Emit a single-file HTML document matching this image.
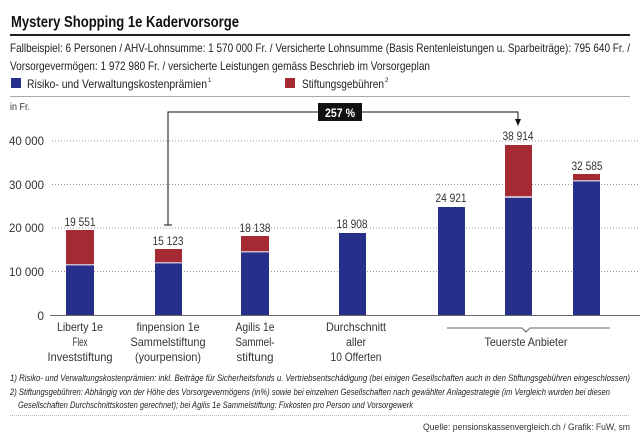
<!DOCTYPE html>
<html><head><meta charset="utf-8"><style>
body{margin:0;background:#fff}
svg{display:block;font-family:"Liberation Sans Narrow","Liberation Sans",sans-serif}
</style></head><body>
<svg width="640" height="440" viewBox="0 0 640 440">
<text x="11" y="27" font-size="16" font-weight="bold" fill="#111" textLength="228" lengthAdjust="spacingAndGlyphs">Mystery Shopping 1e Kadervorsorge</text>
<rect x="10" y="34" width="620" height="2" fill="#222"/>
<text x="10" y="52" font-size="12" fill="#222" textLength="620" lengthAdjust="spacingAndGlyphs">Fallbeispiel: 6 Personen / AHV-Lohnsumme: 1 570 000 Fr. / Versicherte Lohnsumme (Basis Rentenleistungen u. Sparbeiträge): 795 640 Fr. /</text>
<text x="10" y="70" font-size="12" fill="#222" textLength="420" lengthAdjust="spacingAndGlyphs">Vorsorgevermögen: 1 972 980 Fr. / versicherte Leistungen gemäss Beschrieb im Vorsorgeplan</text>
<rect x="11" y="78" width="10" height="10" fill="#26308a"/>
<text x="27" y="88" font-size="12" fill="#222" textLength="180" lengthAdjust="spacingAndGlyphs">Risiko- und Verwaltungskostenprämien</text><text x="208" y="82" font-size="6" fill="#222">1</text>
<rect x="285" y="78" width="10" height="10" fill="#a52a33"/>
<text x="302" y="88" font-size="12" fill="#222" textLength="82" lengthAdjust="spacingAndGlyphs">Stiftungsgebühren</text><text x="385" y="82" font-size="6" fill="#222">2</text>
<rect x="10" y="96" width="620" height="1" fill="#aaa"/>
<text x="10" y="110" font-size="10" fill="#333" textLength="20" lengthAdjust="spacingAndGlyphs">in Fr.</text>
<g stroke="#999" stroke-dasharray="1,2" stroke-width="1">
<line x1="52" y1="141" x2="640" y2="141"/><line x1="52" y1="184.5" x2="640" y2="184.5"/><line x1="52" y1="228" x2="640" y2="228"/><line x1="52" y1="271.5" x2="640" y2="271.5"/>
</g>
<line x1="50" y1="315.5" x2="640" y2="315.5" stroke="#666"/>
<g font-size="12" fill="#333" text-anchor="end">
<text x="44" y="145" textLength="35" lengthAdjust="spacingAndGlyphs">40 000</text><text x="44" y="189" textLength="35" lengthAdjust="spacingAndGlyphs">30 000</text><text x="44" y="232" textLength="35" lengthAdjust="spacingAndGlyphs">20 000</text><text x="44" y="276" textLength="35" lengthAdjust="spacingAndGlyphs">10 000</text><text x="44" y="320">0</text>
</g>
<g>
<rect x="66" y="265" width="28" height="50" fill="#26308a"/><rect x="66" y="264" width="28" height="1.5" fill="#c9b7c9"/><rect x="66" y="230" width="28" height="34" fill="#a52a33"/>
<rect x="155" y="263" width="27" height="52" fill="#26308a"/><rect x="155" y="262" width="27" height="1.5" fill="#c9b7c9"/><rect x="155" y="249" width="27" height="13" fill="#a52a33"/>
<rect x="241" y="252" width="28" height="63" fill="#26308a"/><rect x="241" y="251" width="28" height="1.5" fill="#c9b7c9"/><rect x="241" y="236" width="28" height="15" fill="#a52a33"/>
<rect x="339" y="233" width="27" height="82" fill="#26308a"/>
<rect x="438" y="207" width="27" height="108" fill="#26308a"/>
<rect x="505" y="198" width="27" height="117" fill="#26308a"/><rect x="505" y="196" width="27" height="2" fill="#c9b7c9"/><rect x="505" y="145" width="27" height="51" fill="#a52a33"/>
<rect x="573" y="181" width="27" height="134" fill="#26308a"/><rect x="573" y="180" width="27" height="1.5" fill="#c9b7c9"/><rect x="573" y="174" width="27" height="6" fill="#a52a33"/>
</g>
<g font-size="12" fill="#333" text-anchor="middle">
<text x="80" y="226" textLength="31" lengthAdjust="spacingAndGlyphs">19 551</text><text x="168" y="245" textLength="31" lengthAdjust="spacingAndGlyphs">15 123</text><text x="255" y="232" textLength="31" lengthAdjust="spacingAndGlyphs">18 138</text><text x="352" y="228" textLength="31" lengthAdjust="spacingAndGlyphs">18 908</text><text x="451" y="202" textLength="31" lengthAdjust="spacingAndGlyphs">24 921</text><text x="518" y="140" textLength="31" lengthAdjust="spacingAndGlyphs">38 914</text><text x="587" y="170" textLength="31" lengthAdjust="spacingAndGlyphs">32 585</text>
</g>
<g stroke="#111" stroke-width="1" fill="none">
<polyline points="168,225 168,112 518,112 518,120"/>
<line x1="164" y1="225" x2="172" y2="225"/>
</g>
<polygon points="515,119 521,119 518,126" fill="#111"/>
<rect x="318" y="103" width="44" height="18" fill="#111"/>
<text x="340" y="117" font-size="12" font-weight="bold" fill="#fff" text-anchor="middle" textLength="30" lengthAdjust="spacingAndGlyphs">257 %</text>
<g font-size="12" fill="#333" text-anchor="middle" lengthAdjust="spacingAndGlyphs">
<text x="80" y="331" textLength="46" lengthAdjust="spacingAndGlyphs">Liberty 1e</text><text x="80" y="346" textLength="15" lengthAdjust="spacingAndGlyphs">Flex</text><text x="80" y="361" textLength="65" lengthAdjust="spacingAndGlyphs">Investstiftung</text>
<text x="168" y="331" textLength="63" lengthAdjust="spacingAndGlyphs">finpension 1e</text><text x="168" y="346" textLength="75" lengthAdjust="spacingAndGlyphs">Sammelstiftung</text><text x="168" y="361" textLength="66" lengthAdjust="spacingAndGlyphs">(yourpension)</text>
<text x="255" y="331" textLength="39" lengthAdjust="spacingAndGlyphs">Agilis 1e</text><text x="255" y="346" textLength="39" lengthAdjust="spacingAndGlyphs">Sammel-</text><text x="255" y="361" textLength="37" lengthAdjust="spacingAndGlyphs">stiftung</text>
<text x="356" y="331" textLength="60" lengthAdjust="spacingAndGlyphs">Durchschnitt</text><text x="356" y="346" textLength="20" lengthAdjust="spacingAndGlyphs">aller</text><text x="356" y="361" textLength="51" lengthAdjust="spacingAndGlyphs">10 Offerten</text>
<text x="526" y="346" textLength="83" lengthAdjust="spacingAndGlyphs">Teuerste Anbieter</text>
</g>
<polyline points="447,328 522,328 526,332 530,328 610,328" stroke="#666" fill="none"/>
<g font-size="9.5" font-style="italic" fill="#222">
<text x="10" y="381" textLength="620" lengthAdjust="spacingAndGlyphs">1) Risiko- und Verwaltungskostenprämien: inkl. Beiträge für Sicherheitsfonds u. Vertriebsentschädigung (bei einigen Gesellschaften auch in den Stiftungsgebühren eingeschlossen)</text>
<text x="10" y="395" textLength="600" lengthAdjust="spacingAndGlyphs">2) Stiftungsgebühren: Abhängig von der Höhe des Vorsorgevermögens (in%) sowie bei einzelnen Gesellschaften nach gewählter Anlagestrategie (im Vergleich wurden bei diesen</text>
<text x="18" y="408" textLength="395" lengthAdjust="spacingAndGlyphs">Gesellschaften Durchschnittskosten gerechnet); bei Agilis 1e Sammelstiftung: Fixkosten pro Person und Vorsorgewerk</text>
</g>
<line x1="10" y1="415.5" x2="630" y2="415.5" stroke="#bbb" stroke-dasharray="1,1"/>
<text x="630" y="430" font-size="9.5" fill="#333" text-anchor="end" textLength="207" lengthAdjust="spacingAndGlyphs">Quelle: pensionskassenvergleich.ch / Grafik: FuW, sm</text>
</svg>
</body></html>
